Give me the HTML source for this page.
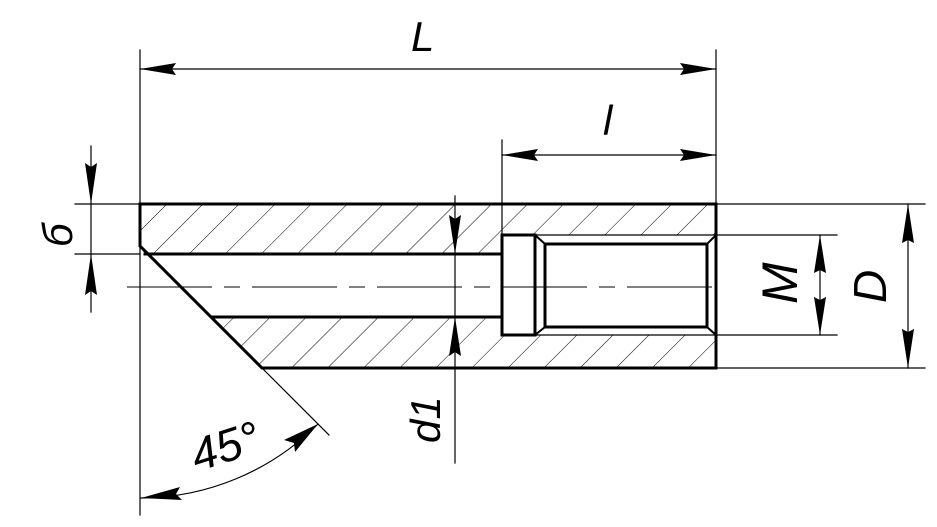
<!DOCTYPE html>
<html><head><meta charset="utf-8"><style>
html,body{margin:0;padding:0;background:#fff;}
svg{display:block;}
text{font-family:"Liberation Sans",sans-serif;font-style:italic;fill:#000;}
</style></head><body>
<svg width="937" height="527" viewBox="0 0 937 527" xmlns="http://www.w3.org/2000/svg">
<defs>
<pattern id="h" patternUnits="userSpaceOnUse" width="25.5" height="25.5" patternTransform="translate(10,0) rotate(45)">
<line x1="0" y1="0" x2="0" y2="25.5" stroke="#000" stroke-width="1"/>
</pattern>
<clipPath id="c"><polygon points="140,204 716,204 716,368 262,368 140,246"/></clipPath>
</defs>
<!-- hatch -->
<g clip-path="url(#c)">
<rect x="130" y="200" width="600" height="180" fill="url(#h)"/>
<rect x="130" y="254" width="372" height="63" fill="#fff"/>
<rect x="502" y="235" width="214" height="100" fill="#fff"/>
</g>
<g stroke="#000" fill="none" stroke-linecap="square">
<!-- outline -->
<polyline points="140,204 716,204 716,368 262,368 140,246 140,204" stroke-width="3"/>
<line x1="145" y1="254" x2="502" y2="254" stroke-width="3"/>
<line x1="213" y1="317" x2="502" y2="317" stroke-width="3"/>
<rect x="502" y="235" width="33" height="100" stroke-width="3"/>
<rect x="545" y="244" width="162" height="83" stroke-width="3"/>
<polyline points="535,235 545,244" stroke-width="2"/>
<polyline points="535,335 545,327" stroke-width="2"/>
<polyline points="716,235 707,244" stroke-width="2"/>
<polyline points="716,335 707,327" stroke-width="2"/>
<line x1="535" y1="235" x2="716" y2="235" stroke-width="1.2"/>
<line x1="535" y1="335" x2="716" y2="335" stroke-width="1.2"/>
<!-- centerline -->
<line x1="127" y1="287" x2="714" y2="287" stroke-width="1" stroke-dasharray="85,12,16,12" stroke-linecap="butt"/>
<!-- thin lines -->
<g stroke-width="1.2">
<line x1="140" y1="50" x2="140" y2="515"/>
<line x1="716" y1="50" x2="716" y2="204"/>
<line x1="140" y1="69" x2="716" y2="69"/>
<line x1="502" y1="140" x2="502" y2="235"/>
<line x1="502" y1="155" x2="716" y2="155"/>
<line x1="75" y1="204" x2="140" y2="204"/>
<line x1="75" y1="254" x2="140" y2="254"/>
<line x1="91" y1="146" x2="91" y2="312"/>
<line x1="455" y1="196" x2="455" y2="463"/>
<line x1="262" y1="368" x2="329" y2="435"/>
<line x1="716" y1="235" x2="837" y2="235"/>
<line x1="716" y1="335" x2="837" y2="335"/>
<line x1="820" y1="235" x2="820" y2="335"/>
<line x1="716" y1="204" x2="925" y2="204"/>
<line x1="716" y1="368" x2="925" y2="368"/>
<line x1="908" y1="204" x2="908" y2="368"/>
<path d="M141,498 A252,252 0 0 0 318,424"/>
</g>
</g>
<!-- arrowheads -->
<g fill="#000">
<polygon points="140,69 176,63 172,69 176,75"/>
<polygon points="716,69 680,63 684,69 680,75"/>
<polygon points="502,155 538,149 534,155 538,161"/>
<polygon points="716,155 680,149 684,155 680,161"/>
<polygon points="91,204 85,163 91,167 97,163"/>
<polygon points="91,254 85,295 91,291 97,295"/>
<polygon points="455,254 449,215 455,219 461,215"/>
<polygon points="455,317 449,356 455,352 461,356"/>
<polygon points="820,235 814,273 820,270 826,273"/>
<polygon points="820,335 814,297 820,300 826,297"/>
<polygon points="908,204 902,243 908,240 914,243"/>
<polygon points="908,368 902,329 908,332 914,329"/>
<polygon points="141,498 180,487 176,494 182,500"/>
<polygon points="318,424 295,452 294,443 284,440"/>
</g>
<!-- labels -->
<text x="411" y="51" font-size="42">L</text>
<text x="603" y="135" font-size="42">l</text>
<text transform="translate(72,247) rotate(-90)" font-size="42">б</text>
<text transform="translate(440,443) rotate(-90)" font-size="42">d1</text>
<text transform="translate(797,304) rotate(-90)" font-size="50">M</text>
<text transform="translate(886,303) rotate(-90)" font-size="46">D</text>
<text transform="translate(197,472) rotate(-18)" font-size="46">45°</text>
</svg>
</body></html>
